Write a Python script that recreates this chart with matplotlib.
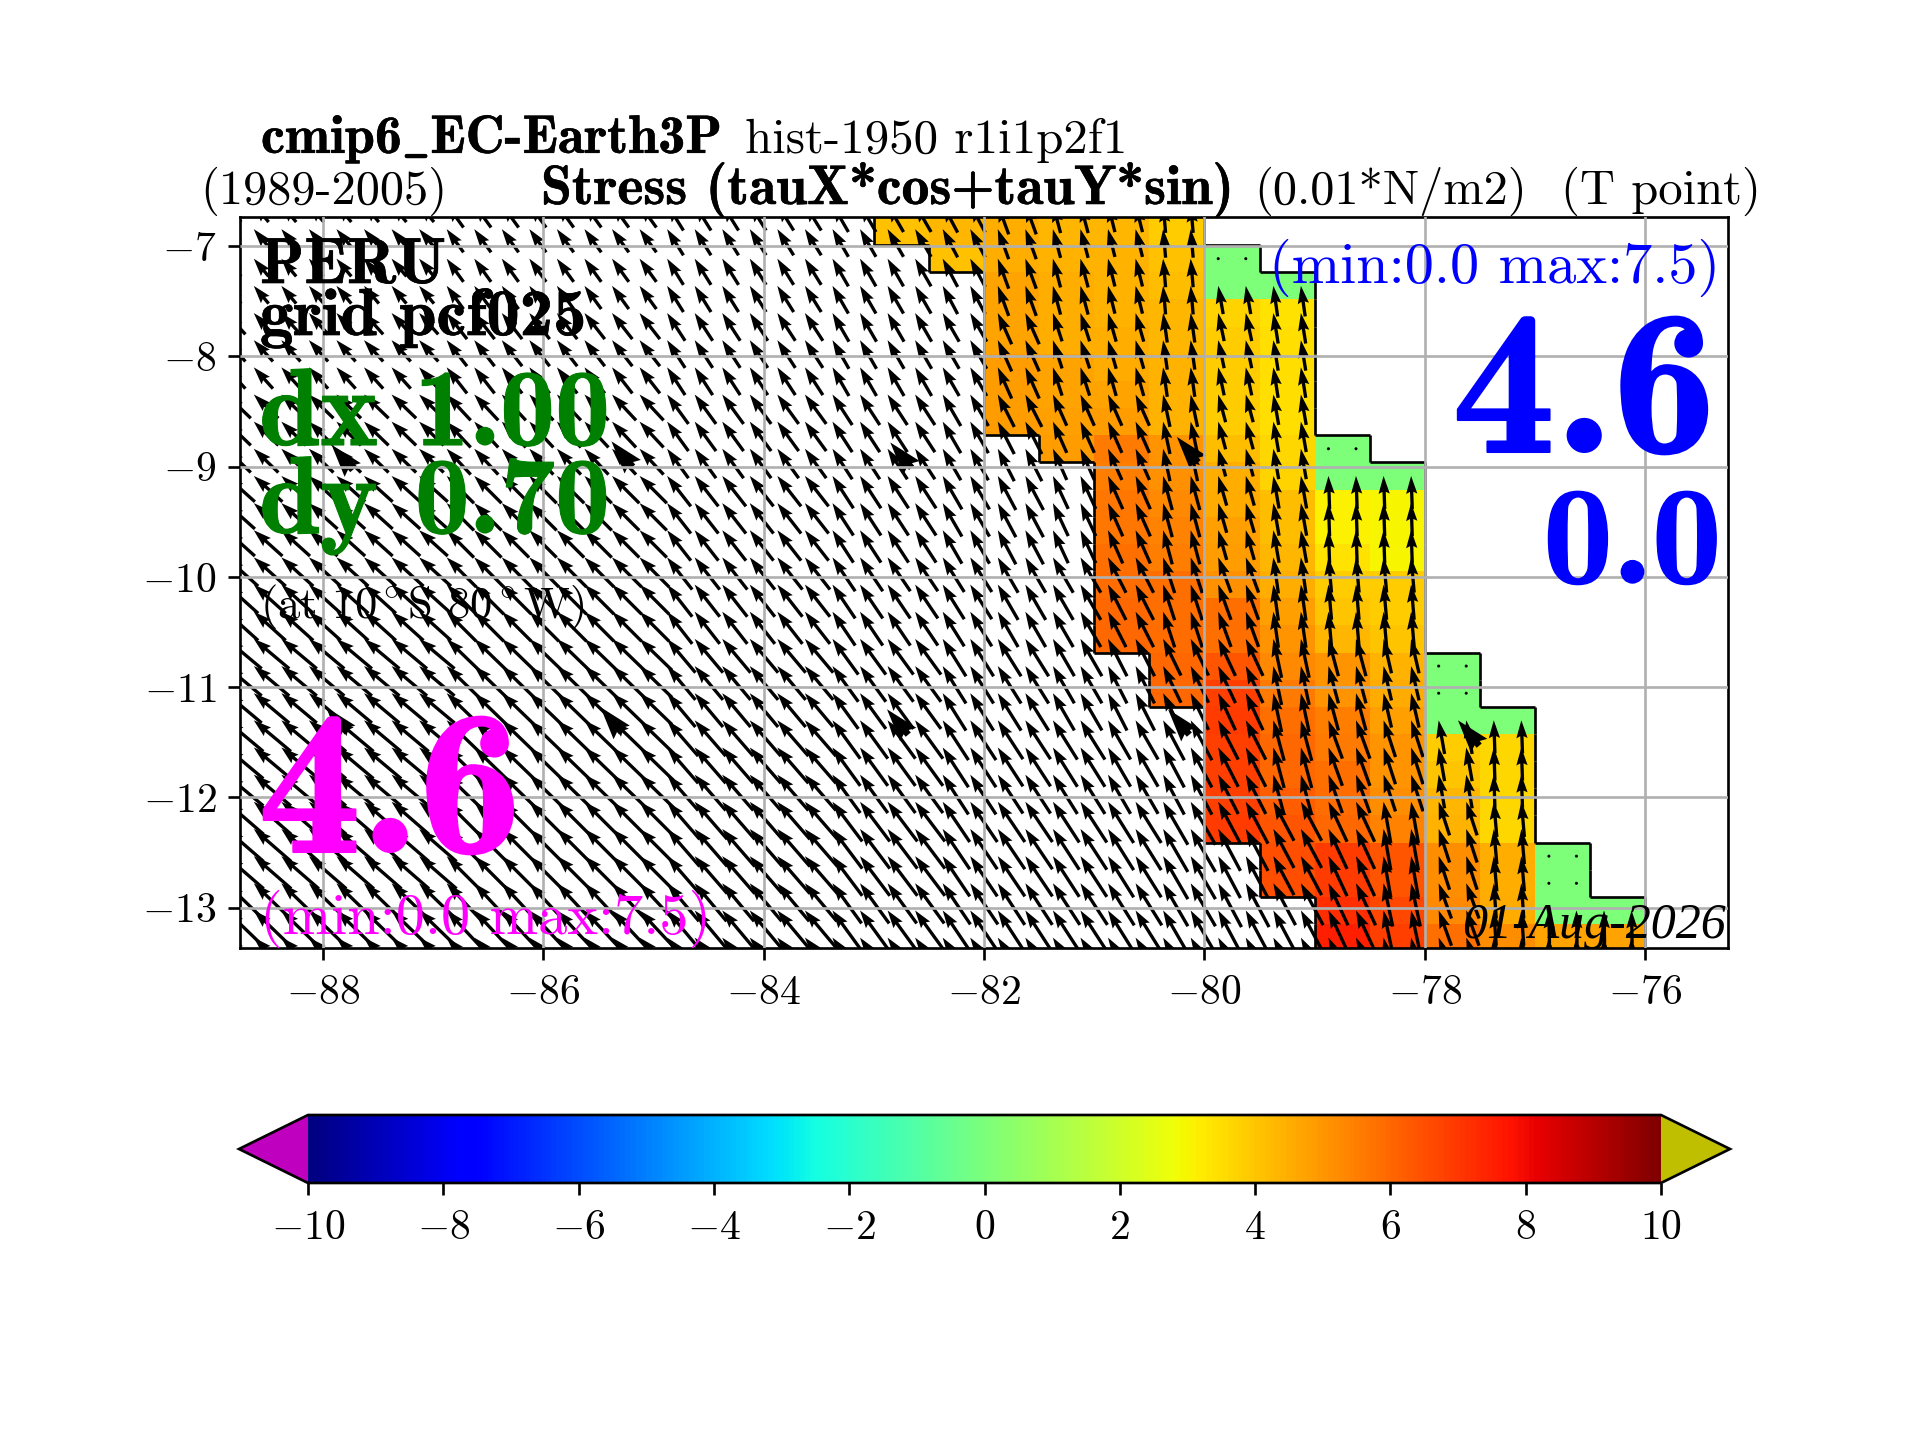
import matplotlib
matplotlib.use("Agg")
import matplotlib.pyplot as plt
from matplotlib.collections import LineCollection
from matplotlib.patheffects import withStroke
import numpy as np

plt.rcParams.update({
    'font.family': 'cmr10',
    'font.size': 12.5,
    'mathtext.fontset': 'cm',
    'axes.formatter.use_mathtext': True,
    'axes.unicode_minus': True,
    'xtick.major.pad': 4.6,
})

n = np.nan

# stress colour cells, 0.5 deg wide
lon_edges = [-83, -82.5, -82, -81.5, -81, -80.5, -80, -79.5, -79, -78.5, -78, -77.5, -77, -76.5, -76]
lat_edges = [-6.70, -6.990, -7.236, -7.483, -7.729, -7.975, -8.222, -8.468, -8.714, -8.960,
             -9.207, -9.453, -9.699, -9.946, -10.192, -10.438, -10.685, -10.931, -11.177,
             -11.423, -11.670, -11.916, -12.162, -12.409, -12.655, -12.901, -13.148, -13.394]
stress = np.array([
    [4.1, 4.3, 4.5, 4.3, 4.3, 3.9, n, n, n, n, n, n, n, n],
    [n, 4.1, 4.5, 4.4, 4.4, 4.1, 0, n, n, n, n, n, n, n],
    [n, n, 4.7, 4.5, 4.4, 4.2, 0, 0, n, n, n, n, n, n],
    [n, n, 4.7, 4.5, 4.4, 4.3, 3.7, 3.4, n, n, n, n, n, n],
    [n, n, 4.7, 4.5, 4.5, 4.3, 3.9, 3.5, n, n, n, n, n, n],
    [n, n, 4.9, 4.7, 4.6, 4.4, 3.9, 3.5, n, n, n, n, n, n],
    [n, n, 4.9, 4.7, 4.7, 4.4, 3.9, 3.5, n, n, n, n, n, n],
    [n, n, 4.9, 4.8, 4.9, 4.4, 3.9, 3.5, n, n, n, n, n, n],
    [n, n, n, 4.9, 5.6, 5.0, 4.2, 3.6, 0, n, n, n, n, n],
    [n, n, n, n, 5.5, 5.1, 4.5, 3.7, 0, 0, n, n, n, n],
    [n, n, n, n, 5.7, 5.3, 4.6, 4.2, 3.1, 3.0, n, n, n, n],
    [n, n, n, n, 5.7, 5.4, 4.8, 4.2, 3.1, 3.0, n, n, n, n],
    [n, n, n, n, 5.8, 5.5, 4.9, 4.3, 3.4, 3.0, n, n, n, n],
    [n, n, n, n, 5.9, 5.8, 5.1, 4.5, 3.9, 3.9, n, n, n, n],
    [n, n, n, n, 6.0, 5.8, 5.8, 4.8, 4.0, 3.9, n, n, n, n],
    [n, n, n, n, 6.0, 5.9, 5.8, 5.0, 4.3, 4.0, n, n, n, n],
    [n, n, n, n, n, 6.0, 6.4, 5.3, 5.0, 4.4, 0, n, n, n],
    [n, n, n, n, n, 6.0, 6.8, 5.6, 5.0, 4.6, 0, n, n, n],
    [n, n, n, n, n, n, 6.9, 5.8, 5.5, 4.8, 0, 0, n, n],
    [n, n, n, n, n, n, 6.8, 6.0, 5.6, 5.0, 3.9, 3.6, n, n],
    [n, n, n, n, n, n, 6.8, 6.0, 5.8, 5.0, 4.0, 3.6, n, n],
    [n, n, n, n, n, n, 6.8, 6.2, 5.9, 5.2, 4.3, 3.6, n, n],
    [n, n, n, n, n, n, 6.9, 6.4, 6.0, 5.4, 4.4, 3.6, n, n],
    [n, n, n, n, n, n, n, 6.5, 6.9, 6.4, 5.2, 4.5, 0, n],
    [n, n, n, n, n, n, n, 6.5, 6.9, 6.4, 5.2, 4.5, 0, n],
    [n, n, n, n, n, n, n, n, 7.2, 6.7, 5.3, 4.6, 0, 0],
    [n, n, n, n, n, n, n, n, 7.5, 6.8, 5.8, 5.2, 4.7, 4.7],
])

# wind vectors, read in bands: west edge of each lon band, north edge of each lat band
band_lon = [-89, -87, -85, -83.5, -82.5, -82, -81.5, -81, -80.5, -80, -79.5, -79, -78.5, -78, -77.5, -77, -76.5]
band_lat = [-6.4, -7.5, -8.25, -9.0, -9.75, -10.5, -11.25, -12.0, -12.75]
# degrees west of north
wind_tilt = np.array([
    [40, 36, 32, 30, 28, 20, 15, 14, 5, 10, 8, 1, 1, 1, 1, 1, 1],
    [42, 38, 33, 30, 30, 24, 18, 16, 8, 12, 9, 2, 1, 1, 1, 1, 1],
    [46, 43, 36, 33, 30, 27, 24, 24, 12, 15, 10, 3, 2, 1, 1, 1, 1],
    [48, 45, 38, 33, 30, 28, 25, 24, 15, 16, 10, 2, 2, 2, 2, 2, 2],
    [48, 45, 38, 34, 32, 30, 30, 27, 18, 20, 8, 5, 5, 5, 5, 2, 2],
    [50, 46, 40, 36, 32, 32, 30, 27, 26, 25, 12, 15, 13, 5, 2, 2, 2],
    [50, 46, 41, 36, 33, 33, 32, 30, 28, 27, 15, 20, 18, 10, 2, 2, 2],
    [49, 45, 41, 37, 34, 34, 33, 32, 30, 28, 28, 25, 10, 18, 5, 2, 2],
    [46, 43, 40, 36, 34, 33, 33, 32, 30, 28, 28, 25, 12, 20, 4, 1, 1],
])
wind_speed = np.array([
    [2.1, 2.6, 2.8, 2.9, 2.9, 2.9, 2.7, 2.6, 2.6, 2.6, 2.8, 2.8, 3.0, 3.0, 3.0, 3.0, 3.0],
    [2.6, 3.0, 3.0, 3.0, 3.0, 3.1, 2.7, 2.7, 2.7, 2.6, 2.8, 3.0, 3.0, 3.0, 3.0, 3.0, 3.0],
    [3.1, 3.2, 3.3, 3.3, 3.3, 3.3, 3.1, 3.1, 3.0, 2.6, 2.8, 3.0, 3.0, 3.0, 3.0, 3.0, 3.0],
    [3.5, 3.5, 3.5, 3.5, 3.5, 3.5, 3.3, 3.3, 3.2, 2.8, 3.0, 3.0, 3.0, 3.0, 3.0, 3.0, 3.0],
    [3.9, 3.8, 3.7, 3.7, 3.7, 3.7, 3.7, 3.6, 3.4, 3.4, 3.3, 3.2, 3.2, 3.0, 3.0, 3.0, 3.0],
    [4.2, 4.1, 4.0, 4.0, 4.0, 4.0, 3.9, 3.8, 3.7, 3.7, 3.6, 3.5, 3.2, 3.0, 3.0, 3.0, 3.0],
    [4.4, 4.3, 4.3, 4.3, 4.3, 4.2, 4.2, 4.1, 4.1, 4.0, 3.8, 3.7, 3.5, 3.1, 3.0, 3.0, 3.0],
    [4.5, 4.5, 4.5, 4.5, 4.4, 4.4, 4.4, 4.4, 4.5, 4.3, 4.0, 4.0, 3.8, 3.2, 3.2, 3.0, 3.0],
    [4.5, 4.5, 4.5, 4.5, 4.5, 4.5, 4.5, 4.5, 4.5, 4.5, 4.3, 4.2, 4.0, 3.4, 3.2, 3.0, 3.0],
])
# doubled arrows that show up as dark wedges
heavy_lon = [-87.92, -85.38, -82.85, -80.25, -87.97, -85.48, -82.88, -80.33, -77.70]
heavy_lat = [-8.80, -8.77, -8.78, -8.73, -11.18, -11.18, -11.20, -11.20, -11.30]

xticks = [-88, -86, -84, -82, -80, -78, -76]
yticks = [-7, -8, -9, -10, -11, -12, -13]
cbar_ticks = [-10, -8, -6, -4, -2, 0, 2, 4, 6, 8, 10]

W, H = 1920, 1440
fig = plt.figure(figsize=(8, 6), dpi=240)
ax = fig.add_axes([240 / W, 1 - 948 / H, 1488 / W, 731 / H])

cmap = plt.get_cmap('jet').copy()
cmap.set_under('#bf00bf')
cmap.set_over('#bfbf00')
mesh = ax.pcolormesh(lon_edges, lat_edges, np.ma.masked_invalid(stress), cmap=cmap,
                     vmin=-10, vmax=10, zorder=0.5, linewidth=0, rasterized=True)

# staircase outline round the coloured cells
segs = []
filled = np.isfinite(stress)
nr, nc = filled.shape
for r in range(nr):
    for c in range(nc):
        if not filled[r, c]:
            continue
        x0, x1 = lon_edges[c], lon_edges[c + 1]
        y0, y1 = lat_edges[r], lat_edges[r + 1]
        if r == 0 or not filled[r - 1, c]:
            segs.append([(x0, y0), (x1, y0)])
        if r == nr - 1 or not filled[r + 1, c]:
            segs.append([(x0, y1), (x1, y1)])
        if c == 0 or not filled[r, c - 1]:
            segs.append([(x0, y0), (x0, y1)])
        if c == nc - 1 or not filled[r, c + 1]:
            segs.append([(x1, y0), (x1, y1)])
ax.add_collection(LineCollection(segs, colors='k', linewidths=0.8, zorder=0.8))

# quiver grid: tips sit at the cell centres, 0.25 deg apart in x
edges = np.array(lat_edges)
row_lat = 0.5 * (edges[:-1] + edges[1:])
qx, qy, qu, qv = [], [], [], []
for r in range(-1, nr):
    lat = -6.62 if r < 0 else row_lat[r]
    ib = np.searchsorted(-np.array(band_lat), -lat, side='right') - 1
    for lon in np.arange(-88.875, -76, 0.25):
        jb = np.searchsorted(band_lon, lon, side='right') - 1
        speed = wind_speed[ib, jb]
        if lon > -80:
            c = int((lon + 83) // 0.5)
            first = np.argmax(filled[:, c])
            if r < first:
                continue
            if r + 1 < nr and stress[r, c] == 0 and stress[r + 1, c] == 0:
                speed = 0.0
        tilt = np.deg2rad(wind_tilt[ib, jb])
        qx.append(lon)
        qy.append(lat)
        qu.append(-speed * np.sin(tilt))
        qv.append(speed * np.cos(tilt))

ax.quiver(qx, qy, qu, qv, angles='xy', scale_units='xy', scale=10, units='xy',
          width=0.03, headwidth=3.4, headlength=5.4, headaxislength=4.8,
          pivot='tip', color='k', zorder=1)
hu = -3.0 * np.sin(np.deg2rad(40)) * np.ones(len(heavy_lon))
hv = 3.0 * np.cos(np.deg2rad(40)) * np.ones(len(heavy_lon))
ax.quiver(heavy_lon, heavy_lat, hu, hv, angles='xy', scale_units='xy', scale=10, units='xy',
          width=0.07, headwidth=3.2, pivot='tip', color='k', zorder=1)

ax.set_xlim(-88.75, -75.25)
ax.set_ylim(-13.365, -6.735)
ax.set_xticks(xticks)
ax.set_yticks(yticks)
ax.grid(True, color='#b0b0b0', linewidth=0.8)
ax.set_axisbelow(False)

# colourbar, the cax box includes the two end triangles
cax = fig.add_axes([239 / W, 1 - 1183 / H, 1491 / W, 68 / H])
cb = fig.colorbar(mesh, cax=cax, orientation='horizontal', extend='both', extendfrac=0.051,
                  ticks=cbar_ticks)


def put(x, y, s, size, color='k', bold=False, ha='left', **kw):
    t = fig.text(x / W, 1 - y / H, s, fontsize=size, color=color, ha=ha, va='baseline',
                 zorder=10, **({'family': 'cmb10' if bold else 'cmr10'} | kw))
    if bold:
        t.set_path_effects([withStroke(linewidth=size * 0.01, foreground=color)])


# titles
put(261, 153, r'cmip6$\_$EC-Earth3P', 16.2, bold=True)
put(745, 153, 'hist-1950 r1i1p2f1', 14.7)
put(200, 204, '(1989-2005)', 14.5)
put(541, 204, 'Stress (tauX*cos+tauY*sin)', 16.7, bold=True)
put(1254, 204, '(0.01*N/m2)', 14.5)
put(1561, 204, '(T point)', 14.6)

# labels on the map
put(260, 283, 'PERU', 19.5, bold=True)
put(260, 335, 'grid pcf025', 20, bold=True)
put(259, 445, 'dx 1.00', 33, color='green', bold=True)
put(259, 533, 'dy 0.70', 33, color='green', bold=True)
put(260, 618, '(at 10$^\\circ$S 80$^\\circ$W)', 13.4)
put(258, 852, '4.6', 62, color='magenta', bold=True)
put(260, 934, '(min:0.0 max:7.5)', 17.5, color='magenta')
put(1720, 283, '(min:0.0 max:7.5)', 17.5, color='blue', ha='right')
put(1716, 452, '4.6', 62, color='blue', bold=True, ha='right')
put(1722, 583, '0.0', 42, color='blue', bold=True, ha='right')
put(1726, 938, '01-Aug-2026', 15, ha='right', family='Liberation Serif', style='italic')

fig.savefig('out.png', dpi=240, facecolor='white')
